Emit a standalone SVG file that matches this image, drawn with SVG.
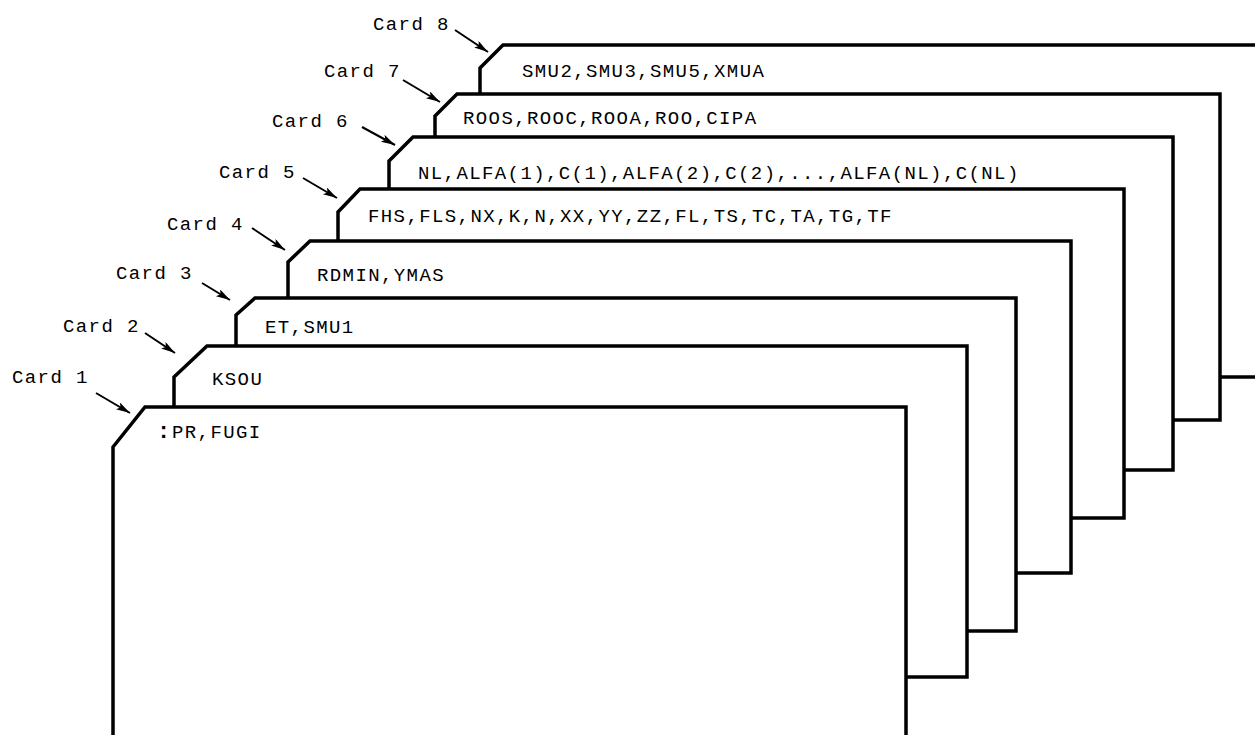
<svg xmlns="http://www.w3.org/2000/svg" width="1255" height="735" viewBox="0 0 1255 735">
<style>
.card{fill:#fff;stroke:#000;stroke-width:3.5;stroke-linejoin:miter}
.t{font-family:"Liberation Mono","Courier New",monospace;font-size:19px;letter-spacing:1.4px;fill:#000}
.arr{stroke:#000;stroke-width:2;fill:none;marker-end:url(#ah)}
</style>
<defs>
<marker id="ah" markerUnits="userSpaceOnUse" markerWidth="16" markerHeight="10" refX="14" refY="4" orient="auto">
<path d="M0,0 L14,4 L0,8 L3,4 z" fill="#000"/>
</marker>
</defs>
<rect width="1255" height="735" fill="#fff"/>
<g id="card8">
<path class="card" d="M480,68 L503,45 L1270,45 L1270,377 L480,377 Z"/>
<text class="t" x="522" y="77">SMU2,SMU3,SMU5,XMUA</text>
<text class="t" x="373" y="30">Card 8</text>
</g>
<g id="card7">
<path class="card" d="M435,116 L457,94 L1220,94 L1220,420 L435,420 Z"/>
<text class="t" x="463" y="124">ROOS,ROOC,ROOA,ROO,CIPA</text>
<text class="t" x="324" y="77">Card 7</text>
</g>
<g id="card6">
<path class="card" d="M389,161 L413,137 L1173,137 L1173,470 L389,470 Z"/>
<text class="t" x="418" y="179">NL,ALFA(1),C(1),ALFA(2),C(2),...,ALFA(NL),C(NL)</text>
<text class="t" x="272" y="127">Card 6</text>
</g>
<g id="card5">
<path class="card" d="M338,212 L360,189 L1124,189 L1124,518 L338,518 Z"/>
<text class="t" x="368" y="222">FHS,FLS,NX,K,N,XX,YY,ZZ,FL,TS,TC,TA,TG,TF</text>
<text class="t" x="219" y="178">Card 5</text>
</g>
<g id="card4">
<path class="card" d="M288,262 L310,241 L1071,241 L1071,573 L288,573 Z"/>
<text class="t" x="317" y="281">RDMIN,YMAS</text>
<text class="t" x="167" y="230">Card 4</text>
</g>
<g id="card3">
<path class="card" d="M236,315 L255,298 L1016,298 L1016,631 L236,631 Z"/>
<text class="t" x="265" y="333">ET,SMU1</text>
<text class="t" x="116" y="279">Card 3</text>
</g>
<g id="card2">
<path class="card" d="M174,377 L207,346 L967,346 L967,677 L174,677 Z"/>
<text class="t" x="212" y="385">KSOU</text>
<text class="t" x="63" y="332">Card 2</text>
</g>
<g id="card1">
<path class="card" d="M113,447 L145,407 L906,407 L906,750 L113,750 Z"/>
<text class="t" x="157" y="438"><tspan font-weight="bold" font-size="22px">:</tspan><tspan x="172">PR,FUGI</tspan></text>
<text class="t" x="12" y="383">Card 1</text>
</g>
<g id="connectors">
<line class="arr" x1="96" y1="393" x2="130" y2="413"/>
<line class="arr" x1="145" y1="333" x2="175" y2="353"/>
<line class="arr" x1="202" y1="283" x2="230" y2="300"/>
<line class="arr" x1="252" y1="228" x2="285" y2="250"/>
<line class="arr" x1="303" y1="178" x2="337" y2="198"/>
<line class="arr" x1="362" y1="127" x2="395" y2="145"/>
<line class="arr" x1="403" y1="80" x2="440" y2="102"/>
<line class="arr" x1="455" y1="30" x2="488" y2="52"/>
</g>
</svg>
